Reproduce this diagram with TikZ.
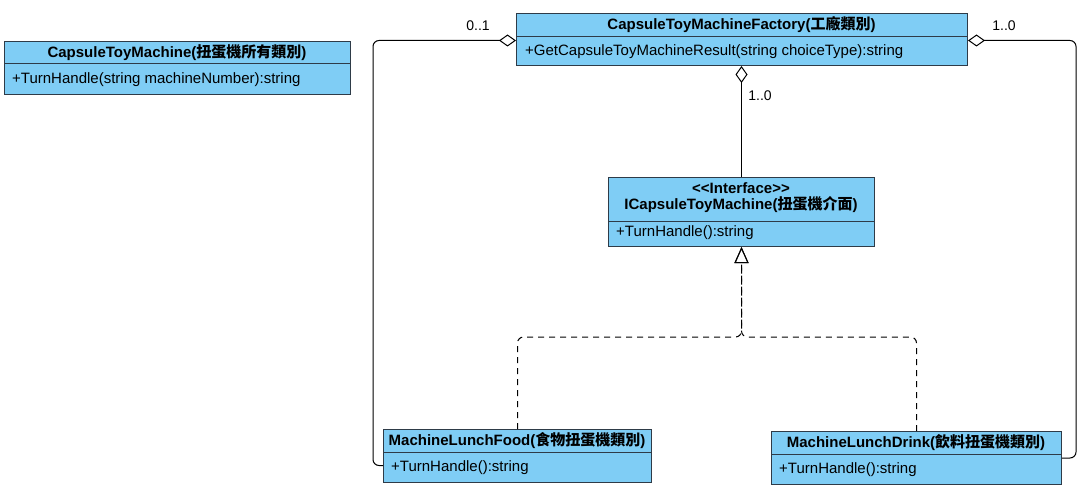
\documentclass[tikz,border=0pt]{standalone}
\usepackage{fontspec}
\setmainfont{Liberation Sans}
\newfontfamily\cjk{Noto Sans CJK TC}
\usetikzlibrary{arrows.meta}
\definecolor{boxfill}{HTML}{7FCDF5}
\definecolor{boxline}{HTML}{2E3B48}
\begin{document}
\begin{tikzpicture}[x=1pt,y=-1pt,
 box/.style={draw=boxline, fill=boxfill, line width=1pt, anchor=north west, inner sep=0pt},
 divider/.style={draw=boxline, line width=1pt},
 hd/.style={font=\fontsize{15}{17}\selectfont\bfseries, inner sep=0pt, align=center},
 bd/.style={font=\fontsize{15}{17}\selectfont, anchor=west, inner sep=0pt},
 lbl/.style={font=\fontsize{14}{16}\selectfont, inner sep=0pt},
 aggr/.style={draw=black, line width=1pt, rounded corners=6pt, -{Diamond[open,length=17pt,width=12pt,line width=1pt]}},
 real/.style={draw=black, line width=1pt, rounded corners=6pt, dash pattern=on 6pt off 5pt, -{Triangle[open,length=16pt,width=14pt,line width=1pt,sep=0pt]}}
]
\useasboundingbox (0,0) rectangle (1084,495);
% boxes
\node[box, minimum width=346pt, minimum height=53pt] (ctm) at (4,41) {};
\node[box, minimum width=451pt, minimum height=52pt] (fac) at (516,13) {};
\node[box, minimum width=266pt, minimum height=69pt] (iface) at (608,177) {};
\node[box, minimum width=268pt, minimum height=53pt] (food) at (383,429) {};
\node[box, minimum width=290pt, minimum height=53pt] (drink) at (771,431) {};
% dividers
\draw[divider] ([yshift=-23pt]ctm.north west) -- ([yshift=-23pt]ctm.north east);
\draw[divider] ([yshift=-24pt]fac.north west) -- ([yshift=-24pt]fac.north east);
\draw[divider] ([yshift=-44pt]iface.north west) -- ([yshift=-44pt]iface.north east);
\draw[divider] ([yshift=-23pt]food.north west) -- ([yshift=-23pt]food.north east);
\draw[divider] ([yshift=-23pt]drink.north west) -- ([yshift=-23pt]drink.north east);
% texts
\node[hd] (ctmH) at (177,52.5) {CapsuleToyMachine({\cjk 扭蛋機所有類別})};
\node[bd] (ctmB) at (12,79.5) {+TurnHandle(string machineNumber):string};
\node[hd] (facH) at (741.5,25) {CapsuleToyMachineFactory({\cjk 工廠類別})};
\node[bd] (facB) at (525,51.5) {+GetCapsuleToyMachineResult(string choiceType):string};
\node[hd] (ifS) at (741,188) {<\kern0pt<Interface>\kern0pt>};
\node[hd] (ifH) at (741,205) {ICapsuleToyMachine({\cjk 扭蛋機介面})};
\node[bd] (ifB) at (616,232.5) {+TurnHandle():string};
\node[hd] (foodH) at (517,440.5) {MachineLunchFood({\cjk 食物扭蛋機類別})};
\node[bd] (foodB) at (391,467.5) {+TurnHandle():string};
\node[hd] (drinkH) at (916,442.5) {MachineLunchDrink({\cjk 飲料扭蛋機類別})};
\node[bd] (drinkB) at (779,469.5) {+TurnHandle():string};
% connectors
\draw[aggr] ([yshift=-9.5pt]food.west) -- ++(-10,0) |- ([yshift=-1pt]fac.west);
\draw[aggr] (drink.east) -- ++(14,0) |- ([yshift=-1pt]fac.east);
\draw[aggr] (iface.north) -- (iface.north |- fac.south);
\draw[real] (food.north) -- ++(0,-92) -| (iface.south);
\draw[real] (drink.north) -- ++(0,-94) -| (iface.south);
% multiplicities
\node[lbl] (m1) at (478,26) {0..1};
\node[lbl] (m2) at (1004,26) {1..0};
\node[lbl] (m3) at (760,96) {1..0};
\end{tikzpicture}
\end{document}
